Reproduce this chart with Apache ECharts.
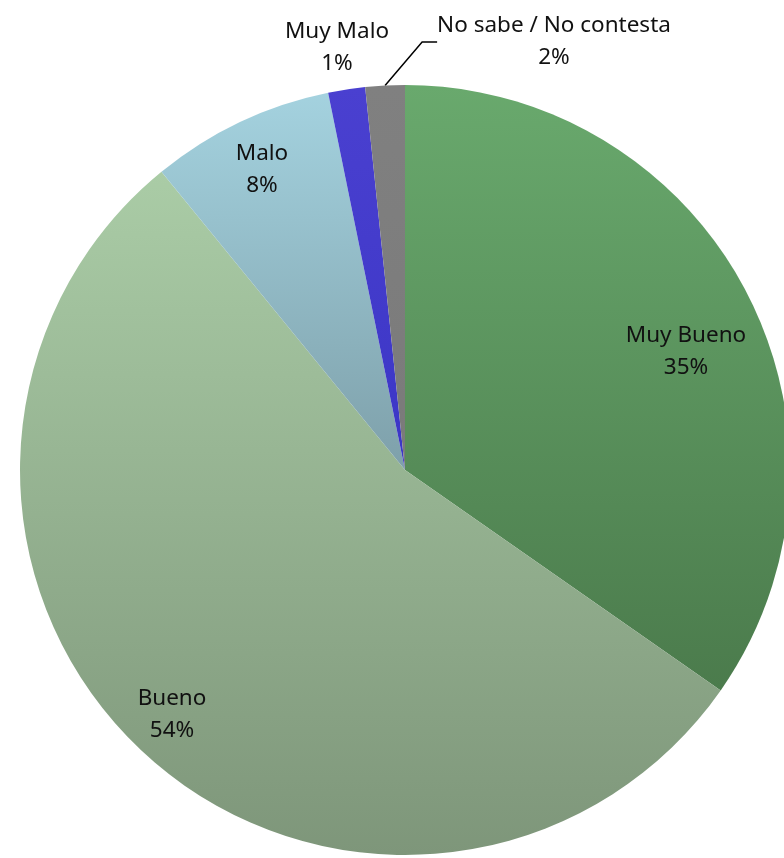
<!DOCTYPE html>
<html>
<head>
<meta charset="utf-8">
<script src="https://cdn.jsdelivr.net/npm/echarts@6/dist/echarts.min.js"></script>
<style>
html, body { margin: 0; padding: 0; background: #fff; }
#chart { width: 784px; height: 858px; }
</style>
</head>
<body>
<div id="chart"></div>
<script>
// datos del gráfico
var categorias = ['Muy Bueno', 'Bueno', 'Malo', 'Muy Malo', 'No sabe / No contesta'];
var valores = [34.7, 54.4, 7.7, 1.55, 1.65];
var etiquetasPct = ['35%', '54%', '8%', '1%', '2%'];

// colores (degradado vertical por sector, claro arriba)
var coloresArriba = ['#69a96d', '#aacca6', '#a4d2df', '#4a40d0', '#808080'];
var coloresAbajo = ['#4b7b4c', '#7e967a', '#7ea0aa', '#3b36c6', '#7a7a7a'];

// posición de cada etiqueta
var posEtiquetas = [[686, 352], [172, 715], [262, 170], [337, 48], [554, 42]];

function grad(i) {
    return new echarts.graphic.LinearGradient(0, 0, 0, 1, [
        { offset: 0, color: coloresArriba[i] },
        { offset: 1, color: coloresAbajo[i] }
    ]);
}

var datos = categorias.map(function (c, i) {
    var d = {
        name: c,
        value: valores[i],
        itemStyle: { color: grad(i) }
    };
    if (i == 4) {
        d.label = { position: 'outside' };
        d.labelLine = { show: true, length: 30, length2: 15 };
    }
    return d;
});

var myChart = echarts.init(document.getElementById('chart'));
var option = {
    animation: false,
    series: [{
        type: 'pie',
        center: [405, 470],
        radius: 385,
        startAngle: 90,
        clockwise: true,
        data: datos,
        itemStyle: { borderWidth: 0 },
        label: {
            show: true,
            position: 'inside',
            formatter: function (p) {
                return p.name + '\n' + etiquetasPct[p.dataIndex];
            },
            color: '#111',
            fontFamily: 'Noto Sans',
            fontSize: 22.5,
            lineHeight: 32,
            align: 'center'
        },
        labelLine: {
            show: false,
            lineStyle: { color: '#000', width: 1.5 }
        },
        labelLayout: function (params) {
            var p = posEtiquetas[params.dataIndex];
            return {
                x: p[0],
                y: p[1],
                align: 'center',
                verticalAlign: 'middle'
            };
        }
    }]
};
myChart.setOption(option);
</script>
</body>
</html>
